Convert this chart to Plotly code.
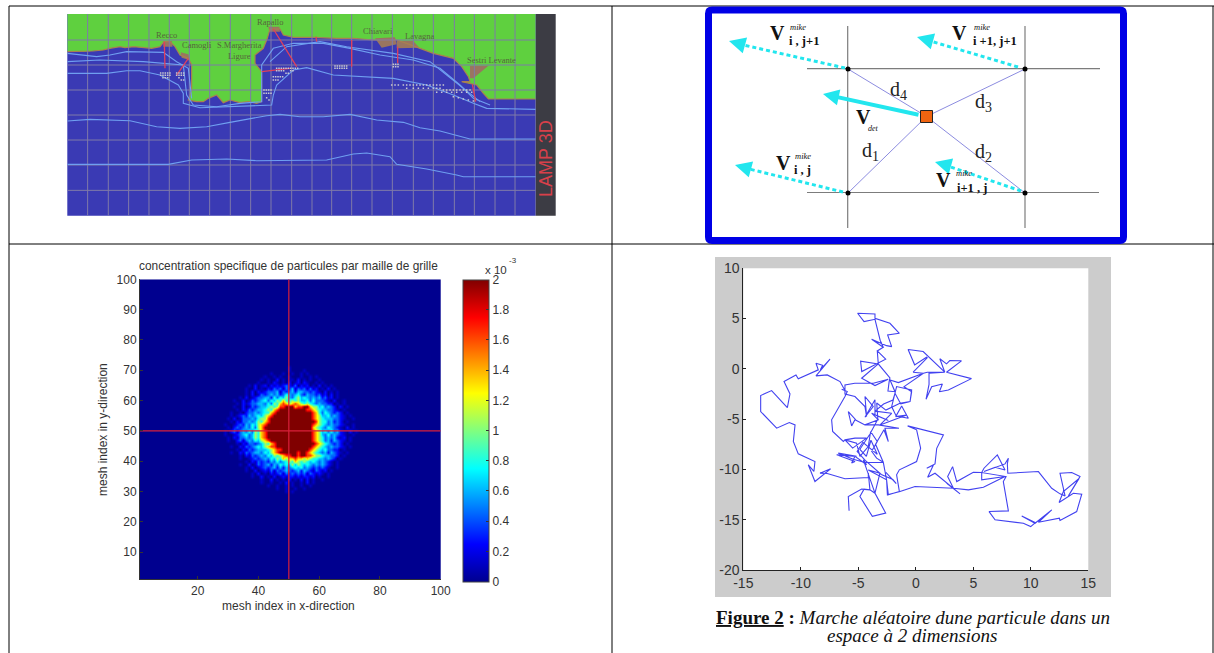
import plotly.graph_objects as go

W, H = 1214, 653

# ---------- Panel A: map (axis units run 22..1427 across, 27..632 down) ----------
coast_x = [22,70,100,130,150,180,195,222,250,275,300,312,330,345,360,385,395,395,385,410,430,445,470,490,510,540,565,590,605,605,585,585,610,622,630,660,670,700,760,800,830,880,940,980,1010,1040,1080,1120,1180,1205,1225,1230,1205,1250,1270,1285,1427]
coast_y = [140,140,138,135,130,125,128,125,128,130,125,110,110,125,150,160,180,255,285,290,290,280,270,293,285,293,290,295,290,200,175,150,130,100,72,72,90,97,97,100,100,100,105,105,105,115,130,145,160,185,215,230,230,240,265,282,282]
contour_a_x = [22,325,395,500,590,720,800,830,880,920,990,1010,1100,1190,1210,1427]
contour_a_y = [478,478,465,462,467,467,465,458,447,444,455,478,492,510,515,515]
contour_b_x = [22,90,210,290,360,440,510,570,620,660,720,790,870,950,1030,1080,1140,1230,1427]
contour_b_y = [348,343,347,365,370,365,352,342,332,328,335,335,328,345,352,368,378,402,402]
contour_c_x = [22,140,200,240,300,355,370,370,420,500,635,640,650,700,740,820,900,1000,1100,1180,1240,1280,1427]
contour_c_y = [205,205,197,197,210,240,265,295,308,305,300,270,240,195,188,210,215,220,240,270,295,310,313]
contour_d_x = [22,120,250,330,370,380,400,470,540,605,605,640,700,790,870,960,1060,1140,1200,1240,1290]
contour_d_y = [170,165,170,178,180,270,300,305,295,290,180,130,115,115,130,150,165,190,240,280,300]
contour_e_x = [22,110,150,200,310,350,385,395]
contour_e_y = [145,155,150,140,142,170,190,280]
contour_f_x = [630,680,780,860,1000,1110,1160,1210,1260]
contour_f_y = [170,125,110,125,145,170,210,250,290]
grid_v = [83,145,206,267,328,388,449,511,572,633,695,756,815,875,936,997,1060,1120,1183,1243,1305,1365]
grid_h = [105,180,255,330,405,480,556]
red_segments = [[(313,110),(315,190)],[(385,160),(350,210)],[(640,72),(710,185)],[(605,200),(690,190)],
                [(768,95),(770,110)],[(875,105),(875,185)],[(1013,125),(1013,175)],[(1237,238),(1247,290)]]
towns_brown = [[(310,108),(335,108),(338,125),(310,125)],[(625,65),(658,65),(660,80),(628,80)],
               [(945,100),(1005,97),(1010,118),(965,128)],[(1010,108),(1060,108),(1078,128),(1010,130)],
               [(1230,182),(1285,182),(1240,220),(1230,220)],[(362,142),(385,148),(388,165),(365,158)]]
town_names = ["Recco","Camogli","S.Margherita<br>Ligure","Rapallo","Chiavari","Lavagna","Sestri Levante"]
town_x = [321,412,540,630,953,1078,1295]
town_y = [90,120,137,52,78,93,166]
dots_x = [302,309,316,323,330,302,309,316,323,330,309,316,323,350,357,364,371,350,357,364,371,357,364,371,
          825,832,839,846,853,860,825,832,839,846,853,860,1000,1007,1014,1000,1007,1014,
          650,657,664,671,678,685,692,699,706,713,650,657,664,671,678,685,692,699,640,647,654,661,668,640,647,654,612,619,626,633,612,619,626,633,620,627,
          995,1005,1015,1030,1040,1050,1060,1070,1080,1090,1100,1110,1120,1130,1140,1150,1040,1060,1075,1090,1105,1120,1130,1140,1150,1160,1170,1180,1190,1200,1210,1220,1230,1130,1145,1160,1175,1190,1205,1220,1235,1180,1195,1210,1225,1240]
dots_y = [204,204,204,204,204,211,211,211,211,211,218,218,218,204,204,204,204,211,211,211,211,218,225,225,
          183,183,183,183,183,183,190,190,190,190,190,190,178,178,178,185,185,185,
          190,190,190,190,190,190,190,190,190,190,197,197,197,197,205,205,197,197,215,215,215,215,215,225,225,225,255,255,255,255,265,265,265,265,278,285,
          240,240,240,240,240,240,240,240,240,240,240,240,240,240,240,240,250,250,250,250,250,250,250,250,255,255,255,255,255,255,255,255,255,262,262,262,262,262,262,262,262,275,278,282,285,288]

# ---------- Panel C: concentration read-off, digit = level index into level_vals ----------
level_vals = [0,0.12,0.28,0.45,0.62,0.8,1.05,1.35,1.65,2.0]
conc_rows = ["","1","0000100001","1000100100101","100101001000100101","10100201011020101001","1001021010201202100101",
"01020120212123213021201020101","100201021323132413231312010201","01020212333413234244332321020101",
"01020132343423543453243323120201","102012334425354643564543434231201","1002013234535465755656445353332102001",
"0102123344353657876787656543433220101",
"10020132344565688999788997664534320201",
"0102132344565789999999998876544332101",
"100102334345578999999999999875354323201",
"01012324345467899999999999998764453432101",
"102013334356689999999999999987654443321001",
"01021334346578999999999999999865534232010",
"1001232435467899999999999999987654343321001",
"0102323435367999999999999999976543543210201",
"010231343536578999999999999999876453534210201",
"100123453465789999999999999998764353432 1001".replace(" ",""),
"0102133434657899999999999999987653434212010",
"10023134354678999999999999998765342432101",
"01021332346578999999999999987654323201",
"1002132345467889999999999998765434332101",
"0102132344456788999999999876545332201",
"100213234435467899999989987654342432101",
"01021323435465678899899887665443 3201".replace(" ",""),
"100123234354657677877676554434 3201".replace(" ",""),
"0102132324353456576565454343 2101".replace(" ",""),
"100201323424354546465454343432101",
"01020123234242434545343232321001",
"100201213132343234243213212010",
"0102010212313232323132121010",
"10020102012122121221201001",
"0100201010201020201001",
"1001001020100102010",
"100100101001001",
"1001001001","101",""]
conc_top_row = 72
conc_left_col = 28
cbar_vals = [0,0.2,0.4,0.6,0.8,1,1.2,1.4,1.6,1.8,2]
mesh_x_ticks = [20,40,60,80,100]
mesh_y_ticks = [10,20,30,40,50,60,70,80,90,100]
cross_pos = 50

# ---------- Panel D: random walk ----------
walk = [(-5.8,-14.1),(-5.87,-12.69),(-4.71,-11.96),(-3.99,-12.03),(-3.55,-12.36),(-2.62,-14.34),(-3.78,-14.67),(-4.86,-12.69),(-4.5,-11.96),(-3.99,-12.03),(-4.13,-10.37),(-4.13,-10.8),
(-6.16,-10.93),(-7.7,-10.4),(-8.33,-10.37),(-7.41,-9.94),(-8.77,-11.2),(-9.35,-9.54),(-8.86,-10.2),(-8.77,-9.21),(-10.22,-8.45),(-10.65,-7.22),(-10.5,-5.57),(-11.0,-5.34),(-12.1,-5.9),(-13.49,-4.24),(-13.49,-2.65),(-12.54,-2.16),(-11.17,-3.85),(-10.94,-2.49),(-11.46,-1.26),(-10.42,-0.6),(-10.22,-0.98),(-8.48,-0.1),(-8.68,0.56),(-8.1,0.35),(-8.3,-0.1),(-7.46,0.96),(-8.68,-0.70),(-7.70,-0.60),(-6.59,-1.26),(-6.16,-2.16),(-6.45,-2.02),(-5.96,-2.26),(-6.16,-2.75),(-7.32,-5.07),(-7.23,-6.23),(-6.30,-7.22),
(-6.16,-7.06),(-5.29,-6.89),(-4.28,-6.89),(-5.49,-7.88),(-6.16,-7.06),(-5.15,-7.39),(-4.86,-8.71),(-4.13,-7.72),(-3.93,-6.23),(-3.35,-7.22),(-3.84,-8.2),(-3.41,-8.88),(-2.83,-9.28),(-4.42,-9.31),(-5.44,-8.98),(-6.74,-8.38),(-5.15,-8.7),(-6.88,-8.55),(-5.29,-9.21),(-5.58,-9.37),(-5.29,-8.7),(-4.28,-9.54),(-4.56,-9.05),(-4.13,-10.37),(-3.55,-12.36),(-3.12,-10.37),(-4.13,-10.05),(-2.54,-11.03),(-2.39,-12.52),(-1.43,-12.19),(-1.67,-10.7),(-1.43,-12.0),(-1.67,-10.53),(-1.43,-10.04),(0.07,-9.21),(0.42,-7.88),(0.07,-6.06),(-0.71,-5.67),
(2.4,-6.57),(1.82,-7.9),(1.67,-9.45),(0.95,-9.88),(1.53,-9.55),(1.03,-10.78),(1.67,-10.38),(3.85,-12.43),(2.69,-11.37),(3.27,-11.87),(2.77,-10.71),(3.2,-9.72),(3.56,-11.21),(5.0,-10.28),(5.73,-10.31),(5.93,-9.88),(7.09,-8.56),(7.76,-10.05),(6.89,-9.78),(5.93,-10.21),(7.76,-9.45),(8.05,-8.89),(7.96,-9.45),(8.0,-10.38),(10.66,-10.21),(11.82,-11.87),(12.54,-12.43),(12.98,-12.63),(12.54,-10.38),(13.56,-10.31),(14.28,-10.71),(13.27,-12.63),(14.2,-10.9),(12.83,-12.2),(12.46,-13.29),(13.7,-12.37),(14.43,-12.46),(13.99,-14.19),(12.54,-15.08),(12.48,-14.85),(10.66,-15.25),(11.82,-14.02),(10.37,-15.35),(9.21,-14.62),(10.4,-15.3),(9.99,-15.68),(9.35,-15.35),(6.89,-15.01),(6.37,-14.19),(8.05,-14.12),(7.61,-11.21),(7.85,-10.71),(5.73,-10.31),(5.73,-11.04),(7.76,-10.71),(5.88,-11.77),(4.57,-12.03),(3.27,-11.87),(-0.07,-11.7),(-1.37,-12.2),(-2.47,-12.53),(-2.54,-11.03),(-2.83,-9.28),(-3.5,-7.5),(-2.77,-6.06),(-2.39,-7.23),(-2.68,-5.9),(-1.46,-5.9),(-3.26,-5.57),(-4.42,-5.57),(-5.29,-5.07),(-5.58,-5.67),(-5.87,-4.24),(-5.2,-5.1),(-4.42,-5.57),(-3.26,-5.07),(-3.84,-4.41),(-2.39,-5.14),(-3.55,-4.57),(-3.55,-3.08),(-4.42,-4.81),(-3.7,-3.75),(-4.42,-2.75),(-4.28,-4.74),(-4.42,-3.75),(-5.29,-2.75),(-6.16,-2.5),(-6.16,-1.6),(-5.3,-1.43),(-3.7,-1.43),(-2.4,-1.03),(-3.55,-1.66),(-4.71,-0.93),(-3.26,0.49),(-4.8,0.76),(-4.7,-0.27),(-2.62,0.96),(-3.35,1.78),(-2.83,2.15),(-3.84,2.94),(-2.54,2.31),(-2.1,2.21),(-2.45,3.37),(-1.43,3.54),(-2.25,4.53),(-3.55,5.03),(-3.55,5.46),(-5.06,5.53),(-4.5,4.7),(-3.55,4.93),(-3.1,2.85),(-2.83,2.15),(-3.35,1.78),(-3.26,0.49),(-2.25,-0.9),(-2.32,-1.3),(-2.42,-2.2),(-1.81,-2.27),(-2.24,-1.11),(-1.52,-1.37),(0.66,-0.44),(-0.23,-0.33),(0.99,1.1),(0.93,1.16),(-0.1,0.4),(-0.67,1.92),(0.64,1.72),(2.52,-0.33),(2.09,1.0),(2.67,0.5),(2.96,0.83),(3.97,0.8),(2.67,-0.33),(4.84,-0.97),(2.83,-2.1),(2.05,-2.27),(2.31,-1.5),(1.38,-1.77),(0.89,-3.03),(1.15,-1.54),(1.15,-0.44),(2.52,-0.33),(1.0,-0.33),(0.66,-0.44),(-1.02,-1.77),(-0.36,-2.27),(-0.5,-3.26),(-1.31,-3.49),(-1.81,-2.43),(-1.99,-3.1),(-2.8,-3.5),(-3.55,-4.2),(-2.1,-4.42),(-3.11,-5.58),(-0.79,-4.58),(-1.75,-4.75),(-1.23,-3.69),(-0.65,-4.91),
(-1.7,-4.7),(-2.1,-3.75),(-1.67,-1.76),(-0.36,-2.09),(-0.5,-3.25),(-1.38,-3.41),(-2.6,-4.1),(-3.4,-3.4),(-3.3,-5.0),(-4.0,-6.5),(-4.86,-8.0),(-4.3,-8.7),(-3.9,-7.1),(-3.35,-8.5),(-4.6,-7.3),(-5.1,-8.2),(-4.4,-9.1),(-3.0,-10.5),(-2.0,-11.0),(-1.7,-11.4),(-2.6,-10.3)]
walk_x = [p[0] for p in walk]
walk_y = [p[1] for p in walk]
walk_ticks_x = [-15,-10,-5,0,5,10,15]
walk_ticks_y = [-20,-15,-10,-5,0,5,10]

def dx(a, b): return [a / W, b / W]
def dy(top, bottom): return [1 - bottom / H, 1 - top / H]

fig = go.Figure()
MAP = dict(xaxis="x", yaxis="y", showlegend=False, hoverinfo="skip")
SCH = dict(xaxis="x2", yaxis="y2", showlegend=False, hoverinfo="skip")

# --- Map
land_x = [22] + coast_x + [1427, 22]
land_y = [27] + coast_y + [27, 27]
fig.add_trace(go.Scatter(x=land_x, y=land_y, mode="lines", fill="toself", fillcolor="#5fd03f",
                         line=dict(width=0), **MAP))
for t in towns_brown:
    xs = [p[0] for p in t] + [t[0][0]]
    ys = [p[1] for p in t] + [t[0][1]]
    fig.add_trace(go.Scatter(x=xs, y=ys, mode="lines", fill="toself", fillcolor="#9a7560",
                             line=dict(width=0), **MAP))
fig.add_trace(go.Scatter(x=coast_x, y=coast_y, mode="lines", line=dict(color="#a98050", width=1.2), **MAP))
gx, gy = [], []
for v in grid_v:
    gx += [v, v, None]; gy += [27, 632, None]
for h in grid_h:
    gx += [22, 1427, None]; gy += [h, h, None]
fig.add_trace(go.Scatter(x=gx, y=gy, mode="lines", line=dict(color="#7f7aa8", width=1), **MAP))
for cx, cy in [(contour_a_x, contour_a_y), (contour_b_x, contour_b_y), (contour_c_x, contour_c_y),
               (contour_d_x, contour_d_y), (contour_e_x, contour_e_y), (contour_f_x, contour_f_y)]:
    fig.add_trace(go.Scatter(x=cx, y=cy, mode="lines", line=dict(color="#6f9ff0", width=1.1), **MAP))
for seg in red_segments:
    fig.add_trace(go.Scatter(x=[p[0] for p in seg], y=[p[1] for p in seg], mode="lines",
                             line=dict(color="#e0405c", width=1.3), **MAP))
fig.add_trace(go.Scatter(x=dots_x, y=dots_y, mode="markers",
                         marker=dict(symbol="square", size=1.5, color="#c8c8d0"), **MAP))

# --- Schematic (page-pixel axis)
thin = "#8c8ce0"
grey = "#7c7c7c"
for xs, ys in [([847.7,847.7],[26,228]), ([1025,1025],[26,228]), ([807,1100],[68.7,68.7]), ([807,1099],[192.5,192.5])]:
    fig.add_trace(go.Scatter(x=xs, y=ys, mode="lines", line=dict(color=grey, width=1.2), **SCH))
for nx, ny in [(848,69),(1025,69),(848,193),(1025,193)]:
    fig.add_trace(go.Scatter(x=[926.5,nx], y=[116.5,ny], mode="lines", line=dict(color=thin, width=1), **SCH))
for (tx, ty, hx, hy) in [(845,68,729,41),(1018,67,917,37),(843,192,735,165),(1021,191,935,162)]:
    fig.add_trace(go.Scatter(x=[tx,hx+10], y=[ty,hy+3], mode="lines", line=dict(color="#22e6ee", width=3, dash="4px,3px"), **SCH))
    fig.add_annotation(xref="x2", yref="y2", axref="x2", ayref="y2", x=hx, y=hy, ax=hx+11, ay=hy+3, text="",
                       arrowhead=2, arrowsize=1.1, arrowwidth=3, arrowcolor="#22e6ee", standoff=0)
fig.add_annotation(xref="x2", yref="y2", axref="x2", ayref="y2", x=823, y=94, ax=920, ay=115, text="",
                   arrowhead=2, arrowsize=0.8, arrowwidth=4, arrowcolor="#22e6ee", standoff=0)
fig.add_trace(go.Scatter(x=[848,1025,848,1025], y=[69,69,193,193], mode="markers",
                         marker=dict(color="#000", size=5), **SCH))
fig.add_trace(go.Scatter(x=[926.5], y=[116.5], mode="markers",
                         marker=dict(symbol="square", size=12, color="#f06410", line=dict(color="#222", width=1)), **SCH))

# --- Heatmap
z = [[0.0] * 100 for _ in range(100)]
for i, row in enumerate(conc_rows):
    row = row.center(45, "0")
    yv = conc_top_row - i
    for j, ch in enumerate(row):
        z[yv - 1][conc_left_col - 1 + j] = level_vals[int(ch)] * 1e-3
jet = [[0,"#00008f"],[0.125,"#0000ff"],[0.375,"#00ffff"],[0.625,"#ffff00"],[0.875,"#ff0000"],[1,"#800000"]]
fig.add_trace(go.Heatmap(z=z, x=list(range(1,101)), y=list(range(1,101)), xaxis="x3", yaxis="y3",
                         colorscale=jet, zmin=0, zmax=2e-3, zsmooth="best", hoverinfo="skip",
                         colorbar=dict(x=462.7/W, xanchor="left", xpad=0, ypad=0, thickness=25.6, thicknessmode="pixels",
                                       y=1-(279.3+581.7)/2/H, yanchor="middle", len=302.4/H, lenmode="fraction",
                                       outlinewidth=1, outlinecolor="#444",
                                       tickvals=[v*1e-3 for v in cbar_vals], ticktext=[str(v) for v in cbar_vals],
                                       ticks="inside", ticklen=3, tickcolor="#333",
                                       tickfont=dict(family="Liberation Sans", size=12, color="#333"))))
fig.add_trace(go.Scatter(x=[cross_pos,cross_pos], y=[1,100], mode="lines",
                         xaxis="x3", yaxis="y3", line=dict(color="#d8203a", width=1.2), showlegend=False, hoverinfo="skip"))
fig.add_trace(go.Scatter(x=[1,100], y=[cross_pos,cross_pos], mode="lines",
                         xaxis="x3", yaxis="y3", line=dict(color="#d8203a", width=1.2), showlegend=False, hoverinfo="skip"))

# --- Walk
fig.add_trace(go.Scatter(x=walk_x, y=walk_y, mode="lines", xaxis="x4", yaxis="y4",
                         line=dict(color="#4242f0", width=1.1), showlegend=False, hoverinfo="skip"))

tick_c = dict(family="Liberation Sans", size=12, color="#333")
tick_d = dict(family="Liberation Sans", size=14, color="#333")
def hidden(**k):
    return dict(visible=False, showgrid=False, zeroline=False, **k)

fig.update_layout(
    width=W, height=H, margin=dict(l=0, r=0, t=0, b=0, autoexpand=False), paper_bgcolor="white",
    plot_bgcolor="rgba(0,0,0,0)", showlegend=False,
    xaxis=hidden(domain=dx(67.3,535.7), range=[22,1427], anchor="y"),
    yaxis=hidden(domain=dy(14,215.7), range=[632,27], anchor="x"),
    xaxis2=hidden(domain=[0,1], range=[0,W], anchor="y2"),
    yaxis2=hidden(domain=[0,1], range=[H,0], anchor="x2"),
    xaxis3=dict(domain=dx(140,440.7), range=[1,100], anchor="y3", tickvals=mesh_x_ticks, ticks="inside", ticklen=3,
                showgrid=False, zeroline=False, showline=True, linecolor="#333", tickcolor="#333", tickfont=tick_c),
    yaxis3=dict(domain=dy(279.3,579.3), range=[1,100], anchor="x3", tickvals=mesh_y_ticks, ticks="inside", ticklen=3,
                showgrid=False, zeroline=False, showline=True, linecolor="#333", tickcolor="#333", tickfont=tick_c),
    xaxis4=dict(domain=dx(743.3,1088.3), range=[-15,15], anchor="y4", tickvals=walk_ticks_x, ticktext=[str(v) for v in walk_ticks_x],
                ticks="inside", ticklen=3,
                showgrid=False, zeroline=False, showline=True, linecolor="#222", tickcolor="#222", tickfont=tick_d),
    yaxis4=dict(domain=dy(268.3,570), range=[-20,10], anchor="x4", tickvals=walk_ticks_y, ticktext=[str(v) for v in walk_ticks_y],
                ticks="inside", ticklen=3,
                showgrid=False, zeroline=False, showline=True, linecolor="#222", tickcolor="#222", tickfont=tick_d),
)

def page_rect(x0, y0, x1, y1, color, line=None):
    fig.add_shape(type="rect", xref="paper", yref="paper", x0=x0/W, x1=x1/W, y0=1-y0/H, y1=1-y1/H,
                  fillcolor=color, line=dict(width=0), layer="below")

def page_line(x0, y0, x1, y1):
    fig.add_shape(type="line", xref="paper", yref="paper", x0=x0/W, x1=x1/W, y0=1-y0/H, y1=1-y1/H,
                  line=dict(color="#000", width=1), layer="below")

page_rect(715, 257, 1111, 597, "#cccccc")
page_rect(743.3, 268.3, 1088.3, 570, "#ffffff")
page_rect(67.3, 14, 535.7, 215.7, "#3a3ab4")
page_rect(535.7, 14, 555.7, 215.7, "#3c3c44")
page_line(9, 6, W, 6); page_line(9, 244, W, 244)
page_line(9, 6, 9, H); page_line(612, 6, 612, H); page_line(1213, 6, 1213, H)

# rounded blue frame in page pixels
fig.add_shape(type="path", xref="x2", yref="y2", layer="below", line=dict(color="#0000e6", width=7),
              path="M 712 10 L 1120 10 Q 1123.5 10 1123.5 13.5 L 1123.5 237 Q 1123.5 240.5 1120 240.5 L 712 240.5 Q 708.5 240.5 708.5 237 L 708.5 13.5 Q 708.5 10 712 10 Z")

def txt(x, y, s, size, family="Liberation Serif", color="#111", ref="2", **k):
    fig.add_annotation(xref="x"+ref if ref else "x", yref="y"+ref if ref else "y", x=x, y=y, text=s, showarrow=False,
                       font=dict(family=family, size=size, color=color), **k)

for n, x, y in zip(town_names, town_x, town_y):
    txt(x, y, n, 8.5, color="#55663c", ref="", align="center")
txt(546, 159, "LAMP 3D", 18, family="Liberation Sans", color="#d8404a", textangle=-90)

# schematic labels
for vx, vy, mx, my, sx, sy, sub in [(777,33,798,27,804,41,"i , j+1"),(959,33,982,27,995,41,"i +1, j+1"),
                                    (783,163,803,156,802,170,"i , j"),(943,180,964,173,972,188,"i+1 , j")]:
    txt(vx, vy, "<b>V</b>", 20)
    txt(mx, my, "<i>mike</i>", 8.5)
    txt(sx, sy, "<b>"+sub+"</b>", 12.5)
txt(863, 117, "<b>V</b>", 20)
txt(873, 128, "<i>det</i>", 8)
for x, y, s in [(898,90,"d<sub>4</sub>"),(983,102,"d<sub>3</sub>"),(870,151,"d<sub>1</sub>"),(983,152,"d<sub>2</sub>")]:
    txt(x, y, s, 20, color="#222")

# heatmap labels
SANS = "Liberation Sans"
txt(288, 265.7, "concentration specifique de particules par maille de grille", 11.9, family=SANS, color="#333")
txt(288, 606, "mesh index in x-direction", 12, family=SANS, color="#333")
txt(103, 430, "mesh index in y-direction", 12, family=SANS, color="#333", textangle=-90)
txt(496, 270, "x 10", 11.5, family=SANS, color="#333")
txt(513, 260, "-3", 8, family=SANS, color="#333")

# caption
txt(912.5, 617, '<span style="text-decoration:underline"><b>Figure 2</b></span><b> :</b> <i>Marche aléatoire dune particule dans un</i>', 19, color="#111")
txt(912, 635, "<i>espace à 2 dimensions</i>", 19, color="#111")

fig.write_html("out.html", config={"displayModeBar": False},
               post_script="document.body.style.margin='0';document.body.style.overflow='hidden';")
